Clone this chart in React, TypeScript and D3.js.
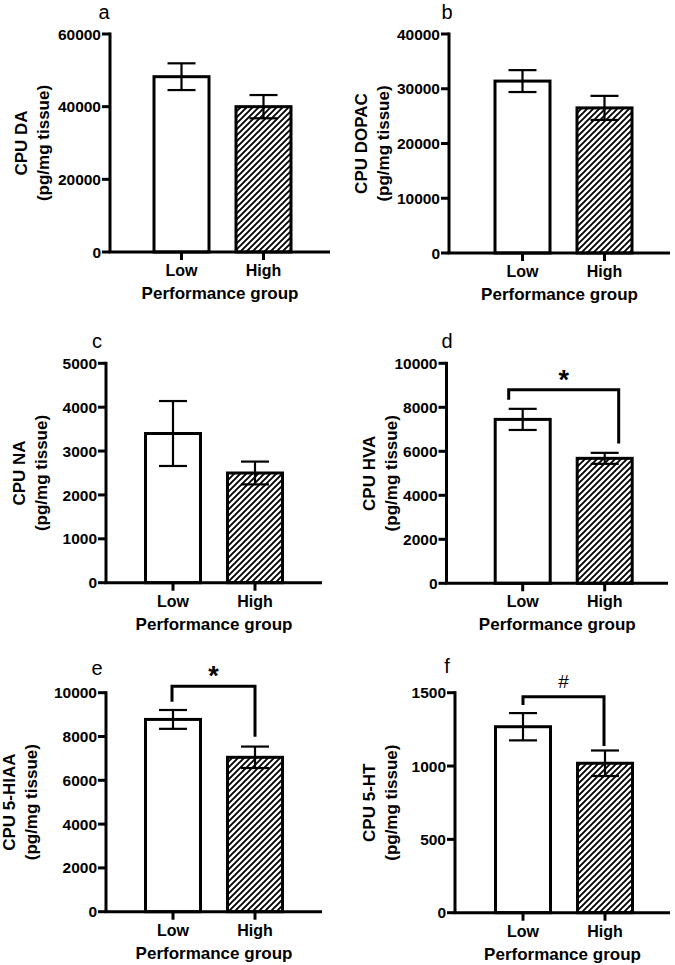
import React from "react";
import * as d3 from "d3";

// ---------- data ----------
const categories = ["Low", "High"];
const panelLetters = ["a", "b", "c", "d", "e", "f"];
const yTitles = ["CPU DA", "CPU DOPAC", "CPU NA", "CPU HVA", "CPU 5-HIAA", "CPU 5-HT"];
const yUnit = "(pg/mg tissue)";
const xTitle = "Performance group";
const yMax = [60000, 40000, 5000, 10000, 10000, 1500];
const yStep = [20000, 10000, 1000, 2000, 2000, 500];
const means = [
  [48250, 40000],
  [31400, 26500],
  [3400, 2500],
  [7450, 5680],
  [8780, 7050],
  [1268, 1019],
];
const errors = [
  [3680, 3200],
  [2000, 2200],
  [740, 260],
  [480, 250],
  [430, 490],
  [93, 87],
];
// significance brackets (values in data units)
const sigLabels = ["", "", "", "*", "*", "#"];
const sigTop = [0, 0, 0, 8800, 10300, 1473];
const sigLeftEnd = [0, 0, 0, 8340, 9590, 1416];
const sigRightEnd = [0, 0, 0, 6360, 7990, 1137];

// ---------- layout ----------
const layout = [
  { axisX: 110, top: 34, zero: 252, xEnd: 330, lowC: 181.5, titleX: 27, letterX: 104, letterY: 19, bdx: [0, 0] },
  { axisX: 449, top: 34, zero: 253, xEnd: 670, lowC: 522.5, titleX: 367, letterX: 447, letterY: 19, bdx: [0, 0] },
  { axisX: 106, top: 363.3, zero: 582.7, xEnd: 322, lowC: 173, titleX: 25, letterX: 97, letterY: 348, bdx: [0, 0] },
  { axisX: 446.5, top: 363.3, zero: 583.3, xEnd: 668, lowC: 522.7, titleX: 375, letterX: 447, letterY: 348, bdx: [-14, 14] },
  { axisX: 106, top: 692.7, zero: 911.7, xEnd: 322, lowC: 173, titleX: 15, letterX: 97, letterY: 675, bdx: [-1, 0] },
  { axisX: 455, top: 692.7, zero: 912.7, xEnd: 670, lowC: 523, titleX: 375, letterX: 447, letterY: 673, bdx: [0, -1] },
];

const FONT = "'Liberation Sans', Arial, Helvetica, sans-serif";
const STEP = 82;
const BARW = 55;
const CAPW = 28;

function Panel({ i }: { i: number }) {
  const L = layout[i];
  const y = d3.scaleLinear().domain([0, yMax[i]]).range([L.zero, L.top]);
  const x = d3
    .scaleBand<string>()
    .domain(categories)
    .range([L.lowC - STEP / 2, L.lowC + STEP * 1.5])
    .paddingInner(1 - BARW / STEP)
    .paddingOuter((1 - BARW / STEP) / 2);
  const ticks = d3.range(0, yMax[i] + yStep[i] / 2, yStep[i]);
  const cy = (L.top + L.zero) / 2;
  const cx = (L.axisX + L.xEnd) / 2;

  let bracket = null;
  if (sigLabels[i]) {
    const xl = (x("Low") as number) + x.bandwidth() / 2 + L.bdx[0];
    const xr = (x("High") as number) + x.bandwidth() / 2 + L.bdx[1];
    const yt = y(sigTop[i]);
    const path = `M${xl},${y(sigLeftEnd[i])}V${yt}H${xr}V${y(sigRightEnd[i])}`;
    const mid = (xl + xr) / 2;
    const isStar = sigLabels[i] === "*";
    bracket = (
      <g>
        <path d={path} fill="none" stroke="#000" strokeWidth={3} />
        <text
          x={mid}
          y={isStar ? yt - 1 : yt - 9}
          textAnchor="middle"
          fontFamily={FONT}
          fontWeight={isStar ? "bold" : "normal"}
          fontSize={isStar ? 27 : 19}
        >
          {sigLabels[i]}
        </text>
      </g>
    );
  }

  return (
    <g>
      {/* bars */}
      {categories.map((c, k) => {
        const bx = x(c) as number;
        return (
          <rect
            key={c}
            x={bx}
            y={y(means[i][k])}
            width={x.bandwidth()}
            height={L.zero - y(means[i][k])}
            fill={k === 0 ? "#fff" : "url(#hatch)"}
            stroke="#000"
            strokeWidth={3}
          />
        );
      })}
      {/* error bars */}
      {categories.map((c, k) => {
        const xc = (x(c) as number) + x.bandwidth() / 2;
        const hi = y(means[i][k] + errors[i][k]);
        const lo = y(means[i][k] - errors[i][k]);
        return (
          <g key={c} stroke="#000" strokeWidth={2.2}>
            <line x1={xc} x2={xc} y1={hi} y2={lo} />
            <line x1={xc - CAPW / 2} x2={xc + CAPW / 2} y1={hi} y2={hi} />
            <line x1={xc - CAPW / 2} x2={xc + CAPW / 2} y1={lo} y2={lo} />
          </g>
        );
      })}
      {/* axes */}
      <line x1={L.axisX} x2={L.axisX} y1={L.top - 1.5} y2={L.zero} stroke="#000" strokeWidth={3} />
      <line x1={L.axisX - 1.5} x2={L.xEnd} y1={L.zero} y2={L.zero} stroke="#000" strokeWidth={3} />
      {ticks.map((t) => (
        <g key={t}>
          <line x1={L.axisX - 8} x2={L.axisX} y1={y(t)} y2={y(t)} stroke="#000" strokeWidth={3} />
          <text
            x={L.axisX - 9}
            y={y(t)}
            dy="0.36em"
            textAnchor="end"
            fontFamily={FONT}
            fontWeight="bold"
            fontSize={15.5}
          >
            {t}
          </text>
        </g>
      ))}
      {categories.map((c) => {
        const xc = (x(c) as number) + x.bandwidth() / 2;
        return (
          <g key={c}>
            <line x1={xc} x2={xc} y1={L.zero} y2={L.zero + 8} stroke="#000" strokeWidth={3} />
            <text x={xc} y={L.zero + 24} textAnchor="middle" fontFamily={FONT} fontWeight="bold" fontSize={16}>
              {c}
            </text>
          </g>
        );
      })}
      <text x={cx} y={L.zero + 47} textAnchor="middle" fontFamily={FONT} fontWeight="bold" fontSize={17}>
        {xTitle}
      </text>
      {/* y title */}
      <text
        transform={`translate(${L.titleX},${cy}) rotate(-90)`}
        textAnchor="middle"
        fontFamily={FONT}
        fontWeight="bold"
        fontSize={17}
      >
        {yTitles[i]}
      </text>
      <text
        transform={`translate(${L.titleX + 22},${cy}) rotate(-90)`}
        textAnchor="middle"
        fontFamily={FONT}
        fontWeight="bold"
        fontSize={17}
      >
        {yUnit}
      </text>
      {/* panel letter */}
      <text x={L.letterX} y={L.letterY} textAnchor="middle" fontFamily={FONT} fontSize={20}>
        {panelLetters[i]}
      </text>
      {bracket}
    </g>
  );
}

export default function App() {
  return (
    <svg
      width={675}
      height={965}
      viewBox="0 0 675 965"
      style={{ position: "absolute", left: 0, top: 0, background: "#fff" }}
    >
      <defs>
        <pattern id="hatch" patternUnits="userSpaceOnUse" width={6} height={6}>
          <rect width={6} height={6} fill="#fff" />
          <path
            d="M-1.5,1.5 L1.5,-1.5 M0,6 L6,0 M4.5,7.5 L7.5,4.5"
            stroke="#000"
            strokeWidth={1.9}
            strokeLinecap="square"
          />
        </pattern>
      </defs>
      <rect width={675} height={965} fill="#fff" />
      {panelLetters.map((_, i) => (
        <Panel key={i} i={i} />
      ))}
    </svg>
  );
}
